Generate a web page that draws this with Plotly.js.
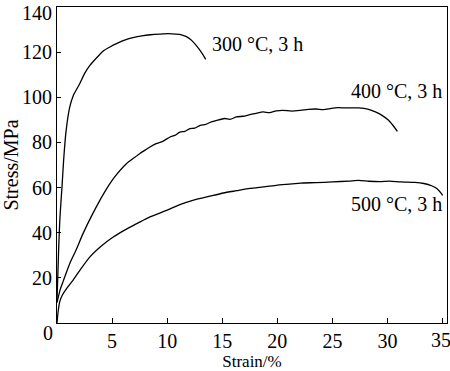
<!DOCTYPE html>
<html>
<head>
<meta charset="utf-8">
<script src="https://cdn.plot.ly/plotly-3.0.1.min.js"></script>
<style>html,body{margin:0;padding:0;background:#fff}#chart{width:450px;height:371px}</style>
</head>
<body>
<div id="chart"></div>
<script>
// Strain (%) and stress (MPa)
const strain300 = [0, 0.08, 0.16, 0.25, 0.35, 0.45, 0.6, 0.8, 1.15, 1.5, 2.06, 2.5, 2.97, 3.6, 4.2, 4.8, 5.5, 6.2, 6.9, 7.7, 8.5, 9.3, 10.1, 10.8, 11.3, 11.7, 12.1, 12.5, 12.9, 13.2, 13.5];
const stress300 = [10, 22, 34, 45, 53, 60, 72, 84, 95.5, 101, 106, 110.5, 114, 117.5, 120.5, 122.3, 124, 125.4, 126.4, 127.2, 127.7, 128.0, 128.2, 128.0, 127.7, 127.0, 125.7, 123.8, 121.3, 119.2, 116.8];

const strain400 = [0, 0.3, 0.6, 1.15, 1.7, 2.36, 3.2, 4.2, 5.2, 6.3, 7.0, 7.5, 8.0, 8.44, 9.0, 9.6, 10.26, 10.7, 11.15, 11.6, 12.06, 12.5, 13.0, 13.5, 14.0, 14.5, 15.2, 15.7, 16.3, 16.9, 17.5, 18.1, 18.7, 19.3, 19.9, 20.5, 21.3, 22.1, 22.8, 23.5, 24.2, 24.9, 25.5, 26.2, 27.4, 28.2, 28.9, 29.5, 30.1, 30.5, 30.9];
const stress400 = [9, 15, 19, 26.3, 32, 39.6, 48, 57, 64.5, 70.6, 73.2, 75, 76.6, 78, 79.5, 80.5, 82.4, 83.1, 84.6, 84.9, 86.1, 86.3, 87.6, 88.0, 89.1, 89.8, 90.6, 90.2, 91.3, 91.6, 92.3, 92.9, 93.5, 93.2, 94.0, 94.2, 93.9, 94.2, 94.6, 94.8, 94.5, 95.1, 95.4, 95.3, 95.3, 94.8, 93.5, 92.0, 89.8, 87.5, 84.9];

const strain500 = [0, 0.1, 0.25, 0.5, 0.9, 1.45, 2.2, 2.97, 4.0, 5.1, 6.3, 7.5, 8.44, 9.95, 11.15, 12.4, 13.9, 15.1, 16.3, 17.5, 18.7, 19.9, 21.3, 22.1, 23.5, 25.0, 26.5, 27.4, 28.3, 29.3, 30.2, 31.2, 32.5, 33.3, 34.0, 34.5, 34.9, 35.0];
const stress500 = [0, 5, 9.5, 12.5, 15.5, 18.9, 24.2, 29.2, 34, 38.1, 41.6, 44.7, 47.0, 49.9, 52.4, 54.4, 56.2, 57.6, 58.6, 59.6, 60.3, 61.0, 61.6, 62.0, 62.2, 62.5, 62.9, 63.2, 62.8, 62.6, 62.9, 62.5, 62.3, 61.8, 60.8, 59.5, 57.3, 56.5];

const seriesLabels = ["300 °C, 3 h", "400 °C, 3 h", "500 °C, 3 h"];
const labelX = [13.9, 26.5, 26.5];
const labelY = [123.5, 103, 52.6];

// tick marks / labels
const xTicks = [5, 10, 15, 20, 25, 30, 35];
const yTicks = [20, 40, 60, 80, 100, 120, 140];
const xTickText = ["5", "10", "15", "20", "25", "30", ""];
const yTickText = ["20", "40", "60", "80", "100", "120", ""];
// edge labels drawn as annotations so they stay inside the picture
const edgeLabels = ["0", "35", "140"];

const fontFam = "Liberation Serif, serif";
const lineStyle = {color: "#000", width: 1.3, shape: "spline", smoothing: 0.6};
const txtFont = {family: fontFam, size: 20, color: "#000"};

const traces = [
  {x: strain300, y: stress300, mode: "lines", line: lineStyle, name: seriesLabels[0]},
  {x: strain400, y: stress400, mode: "lines", line: lineStyle, name: seriesLabels[1]},
  {x: strain500, y: stress500, mode: "lines", line: lineStyle, name: seriesLabels[2]}
];

const annotations = seriesLabels.map((t, i) => ({
  text: t, x: labelX[i], y: labelY[i], xref: "x", yref: "y",
  xanchor: "left", yanchor: "middle", showarrow: false, font: txtFont
}));
annotations.push({
  text: edgeLabels[0], x: 0, y: 0, xref: "x", yref: "y", xanchor: "right", yanchor: "middle",
  xshift: -2, yshift: -10, showarrow: false, font: txtFont
});
annotations.push({
  text: edgeLabels[1], x: 35, y: 0, xref: "x", yref: "y", xanchor: "center", yanchor: "top",
  xshift: -2, yshift: -4, showarrow: false, font: txtFont
});
annotations.push({
  text: edgeLabels[2], x: 0, y: 1.022, xref: "x", yref: "paper", xanchor: "right", yanchor: "top",
  xshift: -3, showarrow: false, font: txtFont
});

const layout = {
  width: 450, height: 371,
  margin: {l: 57, r: 3, t: 7, b: 48, pad: 0},
  paper_bgcolor: "#fff", plot_bgcolor: "#fff",
  showlegend: false,
  font: txtFont,
  xaxis: {
    range: [0, 35.4], tickvals: xTicks, ticktext: xTickText,
    ticks: "inside", ticklen: 5, tickwidth: 1, tickcolor: "#000",
    showline: true, linecolor: "#000", linewidth: 1, mirror: true,
    showgrid: false, zeroline: false,
    tickfont: txtFont,
    title: {text: "Strain/%", font: {family: fontFam, size: 17, color: "#000"}, standoff: 16}
  },
  yaxis: {
    range: [0, 140], tickvals: yTicks, ticktext: yTickText,
    ticks: "inside", ticklen: 4, tickwidth: 1, tickcolor: "#000",
    showline: true, linecolor: "#000", linewidth: 1, mirror: true,
    showgrid: false, zeroline: false,
    tickfont: txtFont,
    title: {text: "Stress/MPa", font: {family: fontFam, size: 20, color: "#000"}, standoff: 2}
  },
  annotations: annotations
};

Plotly.newPlot("chart", traces, layout, {displayModeBar: false, staticPlot: true});
</script>
</body>
</html>
